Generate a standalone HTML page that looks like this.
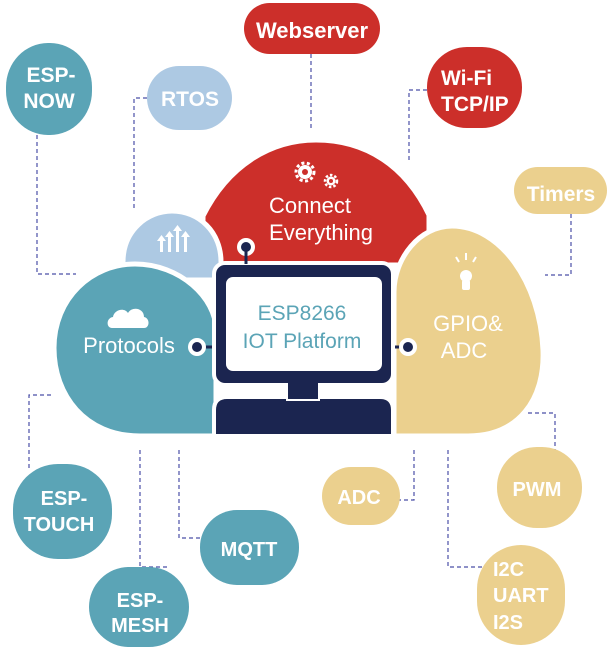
<!DOCTYPE html>
<html><head><meta charset="utf-8"><style>
html,body{margin:0;padding:0;background:#fff;width:613px;height:657px;overflow:hidden}
svg{display:block}
.b{font-family:"Liberation Sans",sans-serif;font-weight:bold;fill:#fff;text-anchor:middle}
.l{font-family:"Liberation Sans",sans-serif;font-weight:bold;fill:#fff;text-anchor:start}
.t{font-family:"Liberation Sans",sans-serif;fill:#fff;text-anchor:middle}
.d{stroke:#4b4fa8;stroke-width:1.2;stroke-dasharray:4 3;fill:none}
</style></head><body>
<svg width="613" height="657" viewBox="0 0 613 657" xmlns="http://www.w3.org/2000/svg">
<!-- connectors -->
<path class="d" d="M37 135 V274 H76"/>
<path class="d" d="M147 98 H134 V210"/>
<path class="d" d="M311 54 V130"/>
<path class="d" d="M427 90 H409 V163"/>
<path class="d" d="M571 214 V275 H545"/>
<path class="d" d="M51 395 H29 V470"/>
<path class="d" d="M140 450 V567 H170"/>
<path class="d" d="M179 450 V538 H202"/>
<path class="d" d="M414 450 V500 H398"/>
<path class="d" d="M528 413 H555 V450"/>
<path class="d" d="M448 450 V567 H482"/>

<!-- top nodes -->
<rect x="6" y="43" width="86" height="92" rx="42" ry="44" fill="#5ba4b6"/>
<text class="b" x="51" y="82" font-size="21">ESP-</text>
<text class="b" x="49" y="108" font-size="21">NOW</text>
<rect x="147" y="66" width="85" height="64" rx="32" fill="#adc9e3"/>
<text class="b" x="190" y="106" font-size="21">RTOS</text>
<rect x="244" y="3" width="136" height="51" rx="25.5" fill="#cc2f2a"/>
<text class="b" x="312" y="38" font-size="22">Webserver</text>
<rect x="427" y="47" width="95" height="81" rx="40" fill="#cc2f2a"/>
<text class="l" x="441" y="85" font-size="21">Wi-Fi</text>
<text class="l" x="441" y="111" font-size="21">TCP/IP</text>
<rect x="514" y="167" width="93" height="47" rx="23.5" fill="#ebd08e"/>
<text class="b" x="561" y="201" font-size="21">Timers</text>

<!-- bottom nodes -->
<rect x="13" y="464" width="99" height="95" rx="45" fill="#5ba4b6"/>
<text class="b" x="64" y="505" font-size="20">ESP-</text>
<text class="b" x="59" y="531" font-size="20">TOUCH</text>
<rect x="89" y="567" width="100" height="80" rx="40" fill="#5ba4b6"/>
<text class="b" x="140" y="607" font-size="20">ESP-</text>
<text class="b" x="140" y="632" font-size="20">MESH</text>
<rect x="200" y="510" width="99" height="75" rx="37" fill="#5ba4b6"/>
<text class="b" x="249" y="556" font-size="20">MQTT</text>
<rect x="322" y="467" width="78" height="58" rx="29" fill="#ebd08e"/>
<text class="b" x="359" y="504" font-size="20">ADC</text>
<rect x="497" y="447" width="85" height="81" rx="40" fill="#ebd08e"/>
<text class="b" x="537" y="496" font-size="20">PWM</text>
<rect x="477" y="545" width="88" height="100" rx="44" fill="#ebd08e"/>
<text class="l" x="493" y="576" font-size="20">I2C</text>
<text class="l" x="493" y="602" font-size="20">UART</text>
<text class="l" x="493" y="629" font-size="20">I2S</text>

<!-- cloud -->
<path d="M203 216 C228 166 270 140 316 140 C365 140 405 165 429 215 L429 265 L203 265 Z" fill="#cc2f2a" stroke="#fff" stroke-width="5"/>
<path d="M123 262 C123 230 148 211 172 211 C199 211 221 232 221 262 L221 280 L123 280 Z" fill="#adc9e3" stroke="#fff" stroke-width="5"/>
<path d="M216 436 L140 436 C85 436 54 395 54 348 C54 298 92 264 135 264 C180 264 216 298 216 330 Z" fill="#5ba4b6" stroke="#fff" stroke-width="5"/>
<path d="M394 436 L468 436 C518 436 545 400 543 350 C540 282 500 226 452 226 C420 226 394 258 394 292 Z" fill="#ebd08e" stroke="#fff" stroke-width="5"/>

<!-- icons -->
<g fill="#fff">
  <circle cx="305" cy="172" r="7"/>
  <circle cx="305" cy="172" r="9" fill="none" stroke="#fff" stroke-width="3" stroke-dasharray="3 2.5"/>
  <circle cx="331" cy="181" r="4.5"/>
  <circle cx="331" cy="181" r="6" fill="none" stroke="#fff" stroke-width="2.5" stroke-dasharray="2.5 2"/>
  <circle cx="305" cy="172" r="3" fill="#cc2f2a"/>
  <circle cx="331" cy="181" r="2" fill="#cc2f2a"/>
  <rect x="160" y="240" width="3" height="12"/><path d="M157 241 L161.5 235 L166 241Z"/>
  <rect x="168" y="236" width="3" height="16"/><path d="M165 237 L169.5 231 L174 237Z"/>
  <rect x="176" y="230" width="3" height="22"/><path d="M173 231 L177.5 225 L182 231Z"/>
  <rect x="184" y="236" width="3" height="16"/><path d="M181 237 L185.5 231 L190 237Z"/>
  <path d="M112 328 C106 328 106 318 113 317 C114 310 124 307 128 313 C132 306 144 308 144 317 C150 318 150 328 144 328 Z"/>
  <circle cx="466" cy="276" r="6"/>
  <rect x="462" y="280" width="8" height="10" rx="2"/>
  <rect x="465" y="253" width="2" height="7"/>
  <path d="M456 257 l3 5" stroke="#fff" stroke-width="2"/>
  <path d="M476 257 l-3 5" stroke="#fff" stroke-width="2"/>
</g>
<text class="t" x="310" y="213" font-size="22">Connect</text>
<text class="t" x="321" y="240" font-size="22">Everything</text>
<text class="t" x="129" y="353" font-size="22">Protocols</text>
<text class="t" x="468" y="331" font-size="22">GPIO&amp;</text>
<text class="t" x="464" y="358" font-size="22">ADC</text>

<!-- monitor -->
<g stroke="#fff" stroke-width="4">
  <line x1="197" y1="347" x2="216" y2="347" stroke="#1b2550" stroke-width="3"/>
  <line x1="392" y1="347" x2="408" y2="347" stroke="#1b2550" stroke-width="3"/>
  <circle cx="197" cy="347" r="7" fill="#1b2550"/>
  <circle cx="408" cy="347" r="7" fill="#1b2550"/>
  <circle cx="246" cy="247" r="7" fill="#1b2550"/>
  <path d="M214 436 L214 410 Q214 397 227 397 L380 397 Q393 397 393 410 L393 436 Z" fill="#1b2550"/>
  <rect x="288" y="380" width="30" height="19" fill="#1b2550"/>
  <rect x="214" y="263" width="179" height="122" rx="11" fill="#1b2550"/>
</g>
<rect x="244.5" y="250" width="3" height="14" fill="#1b2550"/>
<rect x="288" y="383" width="30" height="16" fill="#1b2550"/>
<rect x="226" y="277" width="156" height="94" rx="7" fill="#fff"/>
<text x="302" y="320" font-family="Liberation Sans,sans-serif" font-size="21" fill="#5ba4b6" text-anchor="middle">ESP8266</text>
<text x="302" y="348" font-family="Liberation Sans,sans-serif" font-size="21" fill="#5ba4b6" text-anchor="middle">IOT Platform</text>
</svg>
</body></html>
